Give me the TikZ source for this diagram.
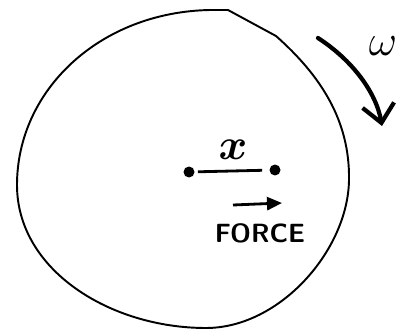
\documentclass[tikz,border=0pt]{standalone}
\usetikzlibrary{positioning, arrows.meta}
\tikzset{
    punkt/.style={
        circle,
        fill=black,          % Gefüllter Endpunkt
        inner sep=0pt,
        minimum size=2.2mm
    },
    umriss/.style={
        draw=black,
        line width=1.1pt,    % Kontur der Scheibe
        line join=round
    },
    pfeil/.style={
        line width=1.6pt,
        -{Triangle[length=3mm,width=2.6mm]}
    },
    drehpfeil/.style={
        line width=2.4pt,
        line cap=round,
        -{Straight Barb[length=3.6mm,width=6.4mm,line width=2.4pt]}
    }
}

\begin{document}
\begin{tikzpicture}[x=0.02cm, y=-0.02cm]

    \useasboundingbox (0,0) rectangle (416,331);

    % Unregelmäßige Scheibe mit Knick oben rechts
    \draw[umriss] (228,10) -- (276,36)
        .. controls (320,75) and (350,120) .. (349,180)
        .. controls (348,250) and (280,328) .. (206,328)
        .. controls (110,328) and (17,270) .. (17,185)
        .. controls (17,90) and (100,12) .. (210,10) -- cycle;

    % Strecke x zwischen zwei Punkten
    \node[punkt] (xlinks) at (189,172) {};
    \node[punkt] (xrechts) at (275,170) {};
    \draw[line width=1.6pt, shorten <=0.6mm, shorten >=1.4mm] (xlinks) -- (xrechts);
    \node[font=\fontsize{24}{24}\selectfont\boldmath] (xlabel) at (233,150) {$x$};

    % Kraftpfeil
    \coordinate (kraftA) at (233,205);
    \coordinate (kraftB) at (282,203);
    \draw[pfeil] (kraftA) -- (kraftB);
    \node[font=\fontsize{15}{15}\selectfont\sffamily\bfseries] (kraft) at (260,233) {FORCE};

    % Drehrichtung omega
    \coordinate (drehA) at (318,38);
    \coordinate (drehB) at (382,126);
    \draw[drehpfeil] (drehA) .. controls (352,60) and (376,92) .. (drehB);
    \node[font=\fontsize{38}{38}\selectfont] (omega) at (383,46) {$\omega$};

\end{tikzpicture}
\end{document}
